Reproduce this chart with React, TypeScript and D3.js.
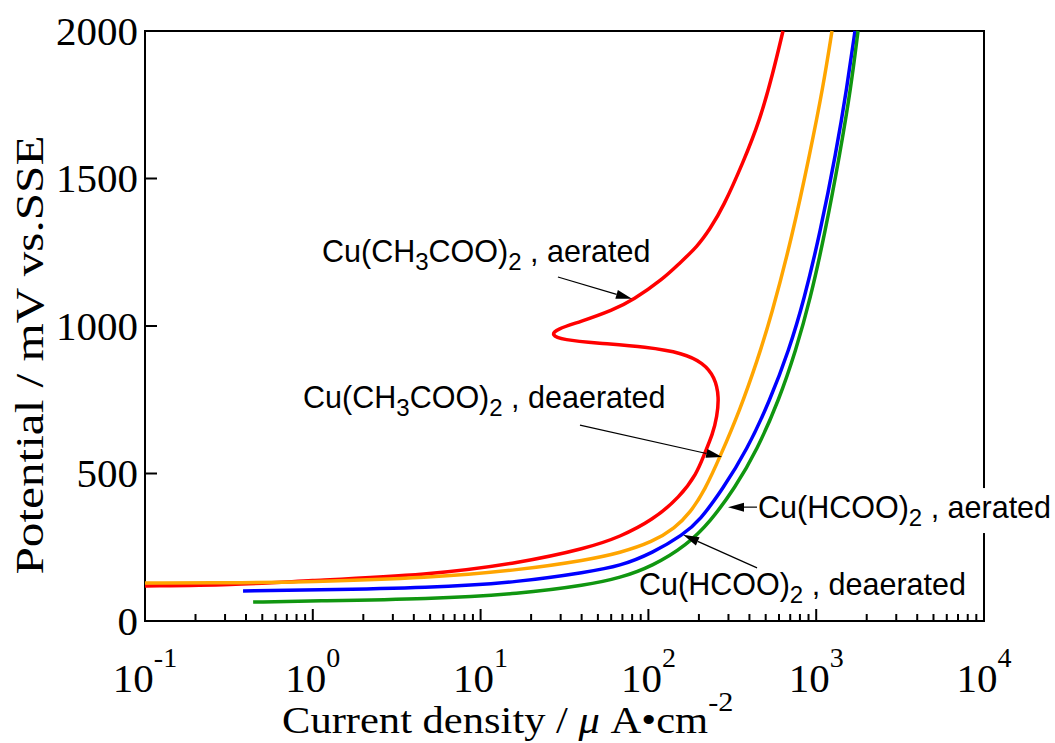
import React, { useEffect, useRef } from 'react'
import * as d3 from 'd3'

const W = 1055
const H = 743

// potential ticks (mV) and current-density decades
const yTicks = [0, 500, 1000, 1500, 2000]
const xExps = [-1, 0, 1, 2, 3, 4]

// [current density µA/cm², potential mV]
const acetateAerated: [number, number][] = [
  [0.1, 119], [0.334, 122], [0.875, 136], [5, 156], [17.2, 197], [43.1, 247], [67.7, 285],
  [106, 342], [154, 420], [195, 502], [212, 556], [243, 637], [256, 692], [264, 759],
  [249, 827], [212, 875], [161, 908], [98, 929], [49.4, 942], [31, 953], [26.2, 969],
  [28.5, 990], [39.1, 1014], [61.5, 1054], [80.9, 1088], [122, 1159], [154, 1214],
  [195, 1268], [233, 1329], [279, 1403], [366, 1553], [462, 1698], [553, 1858], [634, 2000],
]
const acetateDeaerated: [number, number][] = [
  [0.1, 129], [0.422, 129.5], [0.875, 132], [5, 146], [17.2, 173], [43.1, 207], [67.7, 231],
  [106, 268], [144, 315], [177, 366], [217, 444], [267, 556], [351, 715], [447, 885],
  [538, 1031], [718, 1302], [918, 1586], [1099, 1810], [1242, 2000],
]
const formateDeaerated: [number, number][] = [
  [0.384, 102], [0.989, 105], [5, 112], [17.2, 132], [43.1, 166], [67.7, 186], [106, 231],
  [161, 292], [203, 342], [275, 444], [387, 580], [531, 749], [689, 919], [846, 1088],
  [1054, 1315], [1312, 1586], [1526, 1810], [1703, 2000],
]
const formateAerated: [number, number][] = [
  [0.441, 64], [0.989, 68], [5, 75], [17.2, 92], [43.1, 122], [67.7, 146], [106, 186],
  [170, 258], [233, 336], [328, 451], [444, 580], [600, 749], [758, 919], [919, 1088],
  [1128, 1315], [1387, 1586], [1612, 1810], [1775, 2000],
]

const series = [
  { name: 'acetate aerated', color: '#ff0000', data: acetateAerated },
  { name: 'acetate deaerated', color: '#ffa500', data: acetateDeaerated },
  { name: 'formate deaerated', color: '#0000ff', data: formateDeaerated },
  { name: 'formate aerated', color: '#109610', data: formateAerated },
]

type Part = { t: string; sub?: boolean }
const acetate = (s: string): Part[] => [
  { t: 'Cu(CH' }, { t: '3', sub: true }, { t: 'COO)' }, { t: '2', sub: true }, { t: s },
]
const formate = (s: string): Part[] => [
  { t: 'Cu(HCOO)' }, { t: '2', sub: true }, { t: s },
]

// label anchor and arrow, in data units
const notes = [
  { parts: acetate(' , aerated'), at: [1.135, 1217], from: [28.9, 1166], to: [79.8, 1092], bg: false },
  { parts: acetate(' , deaerated'), at: [0.875, 722], from: [39.1, 664], to: [275, 556], bg: false },
  { parts: formate(' , aerated'), at: [450, 349], from: [444, 386], to: [298, 386], bg: true },
  { parts: formate(' , deaerated'), at: [87.9, 88], from: [444, 180], to: [161, 292], bg: false },
]

const SERIF = '"Liberation Serif", "Times New Roman", serif'
const SANS = '"Liberation Sans", Arial, sans-serif'

export default function App() {
  const svgRef = useRef<SVGSVGElement>(null)

  useEffect(() => {
    const svg = d3.select(svgRef.current)
    svg.selectAll('*').remove()

    const m = { top: 31, right: 71, bottom: 122, left: 145 }
    const x = d3.scaleLog().domain([0.1, 1e4]).range([m.left, W - m.right])
    const y = d3.scaleLinear().domain([0, 2000]).range([H - m.bottom, m.top])
    const x0 = m.left, x1 = W - m.right, y0 = H - m.bottom, y1 = m.top

    svg.append('rect').attr('width', W).attr('height', H).attr('fill', '#fff')

    // frame
    svg.append('rect')
      .attr('x', x0).attr('y', y1)
      .attr('width', x1 - x0).attr('height', y0 - y1)
      .attr('fill', 'none').attr('stroke', '#000').attr('stroke-width', 2)

    // y ticks + labels
    yTicks.forEach(v => {
      svg.append('line')
        .attr('x1', x0).attr('x2', x0 + 12)
        .attr('y1', y(v)).attr('y2', y(v))
        .attr('stroke', '#000').attr('stroke-width', 2)
      svg.append('text')
        .attr('x', x0 - 7).attr('y', y(v))
        .attr('dy', '0.34em')
        .attr('text-anchor', 'end')
        .attr('font-family', SERIF).attr('font-size', 41)
        .text(v)
    })

    // x ticks: majors at decades, minors 2..9
    xExps.forEach(e => {
      const v = Math.pow(10, e)
      svg.append('line')
        .attr('x1', x(v)).attr('x2', x(v))
        .attr('y1', y0).attr('y2', y0 - 12)
        .attr('stroke', '#000').attr('stroke-width', 2)
      const t = svg.append('text')
        .attr('x', x(v)).attr('y', 692)
        .attr('text-anchor', 'middle')
        .attr('font-family', SERIF).attr('font-size', 41)
      t.append('tspan').text('10')
      t.append('tspan').attr('font-size', 28).attr('dy', -25).text(e)
      if (e < 4) {
        d3.range(2, 10).forEach(k => {
          const mv = k * v
          svg.append('line')
            .attr('x1', x(mv)).attr('x2', x(mv))
            .attr('y1', y0).attr('y2', y0 - 7)
            .attr('stroke', '#000').attr('stroke-width', 2)
        })
      }
    })

    // axis titles (the original face runs wider than Times, so stretch a bit)
    svg.append('text')
      .attr('transform', `translate(43, 355) rotate(-90) scale(1.2, 1)`)
      .attr('text-anchor', 'middle')
      .attr('font-family', SERIF).attr('font-size', 41)
      .text('Potential / mV vs.SSE')

    const xt = svg.append('text')
      .attr('transform', `translate(282, 733) scale(1.12, 1)`)
      .attr('font-family', SERIF).attr('font-size', 38)
    xt.append('tspan').text('Current density / ')
    xt.append('tspan').attr('font-style', 'italic').text('μ')
    xt.append('tspan').text(' A•cm')
    xt.append('tspan').attr('font-size', 27).attr('dy', -22).text('-2')

    // curves: B-spline through the read-off points keeps the knees smooth
    const line = d3.line<[number, number]>()
      .x(d => x(d[0]))
      .y(d => y(d[1]))
      .curve(d3.curveBasis)

    series.forEach(s => {
      svg.append('path')
        .datum(s.data)
        .attr('d', line)
        .attr('fill', 'none')
        .attr('stroke', s.color)
        .attr('stroke-width', 3.5)
        .attr('stroke-linejoin', 'round')
    })

    // annotations
    notes.forEach(n => {
      const g = svg.append('g')
      const bgRect = g.append('rect').attr('fill', '#fff')
      const t = g.append('text')
        .attr('x', x(n.at[0])).attr('y', y(n.at[1]))
        .attr('font-family', SANS).attr('font-size', 30.5)
      let shifted = false
      n.parts.forEach(p => {
        const ts = t.append('tspan').text(p.t)
        if (p.sub) {
          ts.attr('font-size', 24).attr('dy', shifted ? 0 : 8)
          shifted = true
        } else if (shifted) {
          ts.attr('dy', -8)
          shifted = false
        }
      })
      if (n.bg) {
        const b = (t.node() as SVGTextElement).getBBox()
        bgRect.attr('x', b.x - 2).attr('y', b.y - 2)
          .attr('width', b.width + 4).attr('height', b.height + 4)
      } else {
        bgRect.remove()
      }

      const ax = x(n.from[0]), ay = y(n.from[1])
      const bx = x(n.to[0]), by = y(n.to[1])
      const ang = Math.atan2(by - ay, bx - ax)
      const len = 16, half = 4.5
      const cx = bx - len * Math.cos(ang), cy = by - len * Math.sin(ang)
      svg.append('line')
        .attr('x1', ax).attr('y1', ay).attr('x2', cx).attr('y2', cy)
        .attr('stroke', '#000').attr('stroke-width', 1.2)
      svg.append('path')
        .attr('d', `M${bx},${by}L${cx - half * Math.sin(ang)},${cy + half * Math.cos(ang)}L${cx + half * Math.sin(ang)},${cy - half * Math.cos(ang)}Z`)
        .attr('fill', '#000')
    })
  }, [])

  return (
    <svg
      ref={svgRef}
      width={W}
      height={H}
      style={{ position: 'absolute', left: 0, top: 0, display: 'block' }}
    />
  )
}
